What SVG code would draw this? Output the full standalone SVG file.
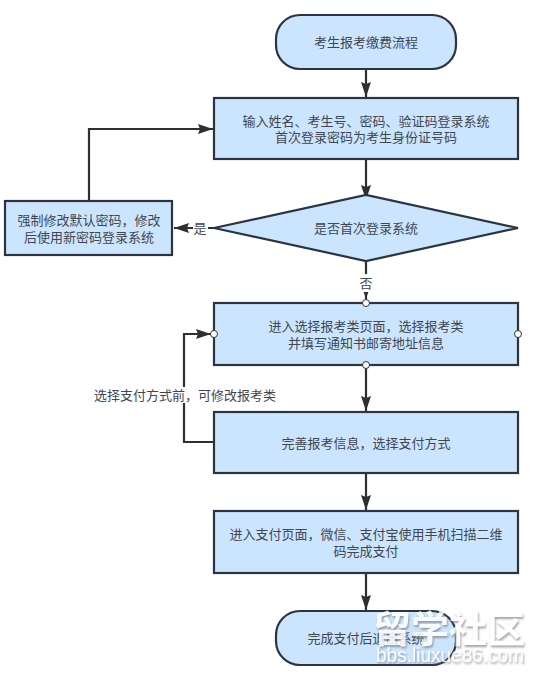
<svg xmlns="http://www.w3.org/2000/svg" width="538" height="678" viewBox="0 0 538 678">
<style>
.n{fill:#cce5ff;stroke:#2b3440;stroke-width:2.2}
.c{fill:none;stroke:#2f2f2f;stroke-width:2.2}
text{font-family:"Noto Sans CJK SC","Liberation Sans",sans-serif;font-size:13px;fill:#3f4650;text-anchor:middle}
.p{fill:#fff;stroke:#333;stroke-width:1}
.w{fill:#fff;opacity:.85;font-weight:700;font-size:37px;filter:url(#s)}
.u{fill:#fff;opacity:.85;font-family:"Liberation Sans",sans-serif;font-size:20px;filter:url(#s)}
</style>
<defs>
<marker id="a" markerUnits="userSpaceOnUse" markerWidth="16" markerHeight="10" refX="15" refY="5" orient="auto"><path d="M0 0L15 5L0 10L2 5Z" fill="#2f2f2f"/></marker>
<filter id="s" x="-10%" y="-20%" width="120%" height="150%"><feDropShadow dx="1" dy="2" stdDeviation="1" flood-color="#777" flood-opacity=".8"/></filter>
</defs>
<rect width="538" height="678" fill="#fff"/>
<g id="connectors">
<path class="c" d="M366 69V97" marker-end="url(#a)"/>
<path class="c" d="M366 159V200" marker-end="url(#a)"/>
<path class="c" d="M214 228H174" marker-end="url(#a)"/>
<path class="c" d="M89 201V129H213" marker-end="url(#a)"/>
<path class="c" d="M366 261V299" marker-end="url(#a)"/>
<path class="c" d="M366 365V411" marker-end="url(#a)"/>
<path class="c" d="M214 442H184V334H211" marker-end="url(#a)"/>
<path class="c" d="M366 473V510" marker-end="url(#a)"/>
<path class="c" d="M366 573V610" marker-end="url(#a)"/>
</g>
<g id="start"><rect class="n" x="276" y="15" width="180" height="54" rx="24"/><text x="366" y="47">考生报考缴费流程</text></g>
<g id="login"><rect class="n" x="214" y="98" width="304" height="61"/><text x="366" y="126">输入姓名、考生号、密码、验证码登录系统</text><text x="366" y="142">首次登录密码为考生身份证号码</text></g>
<g id="decision"><path class="n" d="M214 228L366 195L518 228L366 261Z"/><text x="366" y="233">是否首次登录系统</text></g>
<g id="reset"><rect class="n" x="5" y="201" width="167" height="54"/><text x="89" y="225">强制修改默认密码，修改</text><text x="89" y="242">后使用新密码登录系统</text></g>
<g id="select"><rect class="n" x="214" y="303" width="304" height="62"/><text x="366" y="331">进入选择报考类页面，选择报考类</text><text x="366" y="348">并填写通知书邮寄地址信息</text>
<circle class="p" cx="366" cy="303" r="3.5"/><circle class="p" cx="214" cy="334" r="3.5"/><circle class="p" cx="518" cy="334" r="3.5"/><circle class="p" cx="366" cy="365" r="3.5"/></g>
<g id="info"><rect class="n" x="214" y="412" width="304" height="61"/><text x="366" y="448">完善报考信息，选择支付方式</text></g>
<g id="pay"><rect class="n" x="214" y="511" width="304" height="62"/><text x="366" y="539">进入支付页面，微信、支付宝使用手机扫描二维</text><text x="366" y="556">码完成支付</text></g>
<g id="end"><rect class="n" x="276" y="611" width="180" height="54" rx="24"/><text x="366" y="643">完成支付后退出系统</text></g>
<g id="labels">
<rect x="193" y="220" width="15" height="16" fill="#fff"/><text x="200" y="233">是</text>
<rect x="358" y="274" width="16" height="18" fill="#fff"/><text x="366" y="288">否</text>
<rect x="92" y="387" width="184" height="16" fill="#fff"/><text x="185" y="400">选择支付方式前，可修改报考类</text>
</g>
<g id="watermark">
<text class="w" x="449" y="643" textLength="152" lengthAdjust="spacingAndGlyphs">留学社区</text>
<text class="u" x="450" y="662" textLength="148" lengthAdjust="spacingAndGlyphs">bbs.liuxue86.com</text>
</g>
</svg>
